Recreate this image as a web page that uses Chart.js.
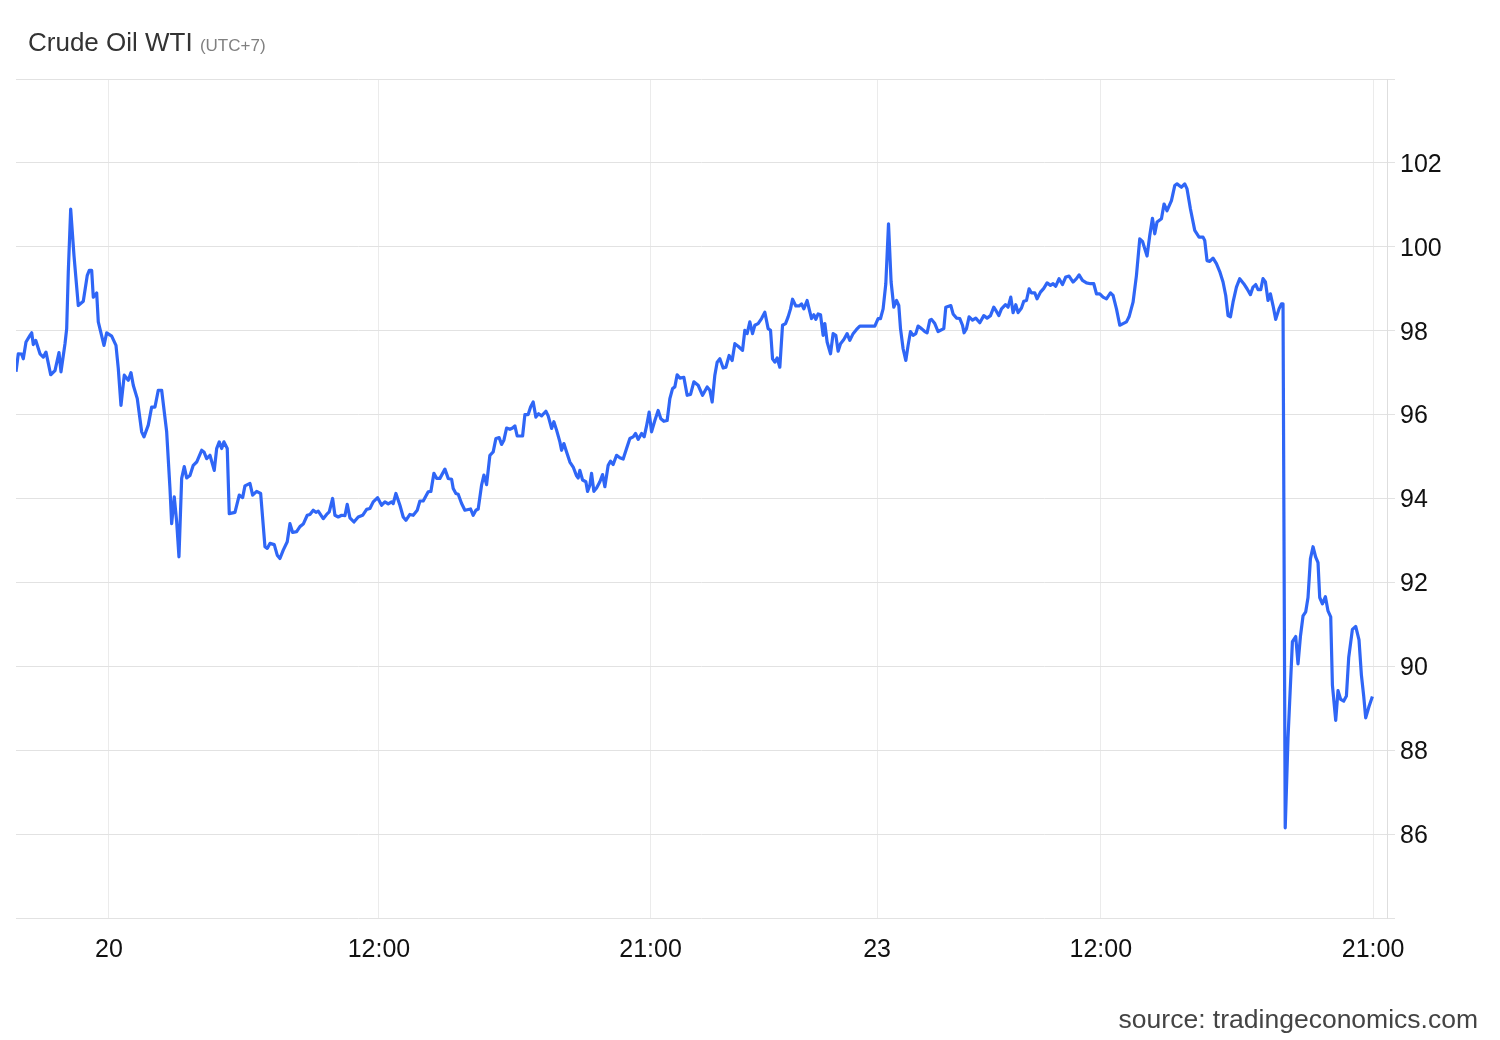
<!DOCTYPE html>
<html>
<head>
<meta charset="utf-8">
<script src="https://cdn.jsdelivr.net/npm/chart.js@4.4.0/dist/chart.umd.min.js"></script>
<style>
  body { margin: 0; background: #fff; }
  #wrap { position: relative; width: 1500px; height: 1040px; font-family: "Liberation Sans", Arial, sans-serif; }
  #title { position: absolute; left: 28px; top: 29px; font-size: 26px; line-height: 26px; color: #333; white-space: nowrap; }
  #title span { font-size: 17px; color: #808080; }
  #source { position: absolute; right: 22px; top: 1006px; font-size: 26.5px; line-height: 26px; color: #444; white-space: nowrap; }
  canvas { position: absolute; left: 0; top: 0; }
</style>
</head>
<body>
<div id="wrap">
  <canvas id="chart" width="1500" height="1040"></canvas>
  <div id="title">Crude Oil WTI <span>(UTC+7)</span></div>
  <div id="source">source: tradingeconomics.com</div>
</div>
<script>
// time slot along the (trading-time) x axis
const slot = [
  0, 2.3, 5.7, 7.3, 10, 14, 15.7, 17.3, 19.7, 24, 27.3, 30, 34.7, 39, 43, 45, 49, 50.7, 52.3, 54.7,
  58, 62.3, 67.3, 71.3, 73.3, 75.7, 77.3, 80.7, 82.3, 88, 90.7, 95.7, 100, 102.3, 105, 108.3, 112.3, 115, 117.3, 121.3,
  125.7, 128, 132.3, 135.7, 139, 142.3, 145.7, 150.7, 154, 155.7, 158.3, 160.7, 163, 165.7, 168.3, 170.7, 174, 177.3, 180.7, 185.7,
  188, 190.7, 194, 198.3, 200.7, 203.3, 205.7, 208, 211.3, 213.3, 219, 223.3, 226.7, 229, 234, 236.7, 240.7, 244.7, 249, 251.3,
  254, 258.3, 261.3, 264, 267.3, 271.3, 274, 276.7, 280.7, 284, 287.3, 291.3, 294, 297.3, 300, 302.3, 307.3, 310.7, 313.3, 316.7,
  319, 322.3, 325.7, 329, 331.3, 334, 338, 342.3, 346.7, 350.7, 354, 357.3, 361.7, 365.7, 369, 372.3, 375.7, 377.3, 380, 384,
  387.3, 390, 394, 397.3, 401.3, 404, 407.3, 412.3, 415, 418, 420.7, 424, 429, 432.3, 435.7, 437.3, 440, 442.3, 445.7, 449,
  454.7, 457.3, 460, 462.3, 465.7, 468, 470.7, 474, 477.3, 480, 483.3, 485.7, 488, 490.7, 494, 496.7, 499, 501.3, 506.7, 509,
  512.3, 514.7, 517.3, 520, 522.7, 525.7, 530, 532.3, 535.7, 538, 540.7, 544, 545.7, 548, 550.7, 554, 557.3, 560.7, 562.3, 564,
  566.7, 570, 571.7, 574, 575.7, 578, 580.7, 584, 586.7, 589, 592.3, 594.7, 597.3, 600.7, 604, 607.3, 610.7, 614, 617.3, 619.7,
  622.3, 625.7, 628.3, 630.7, 633.3, 635.7, 639, 642.3, 645, 648, 651.3, 654, 656.7, 659, 661.3, 664, 668, 671.3, 674.7, 678,
  682.3, 686.7, 691.3, 694, 696.3, 699, 701.3, 704, 707.3, 710, 713.3, 716.3, 719, 722.3, 726.7, 729, 731.3, 734, 736.7, 739,
  742.3, 745.7, 749, 752.3, 754.7, 756.7, 759, 761.3, 764, 766.7, 769.7, 772.3, 774.7, 776.7, 780, 783.3, 785.7, 788, 791.3, 793.3,
  795.7, 798, 800, 802.3, 804.7, 807.3, 809, 811.3, 814.7, 817.3, 820, 822.3, 824.7, 828, 831.3, 834, 837.3, 840.7, 844, 859,
  862.3, 864.7, 867.3, 870, 872.7, 875.3, 878, 880.7, 883, 884.7, 887.3, 890, 892.3, 894.7, 897.3, 900, 902.3, 905.7, 909, 911.3,
  914, 915.7, 919, 922.3, 928, 930, 935, 937.3, 940.7, 944, 946.7, 948.3, 950.7, 953.3, 956.7, 960, 964, 968, 971.3, 974.7,
  978, 980.7, 983, 985.7, 989.7, 992.3, 995, 997.3, 1000, 1002.3, 1005.7, 1008, 1010.7, 1013.3, 1015.7, 1019, 1021.3, 1024.7, 1028, 1031.3,
  1034.7, 1037.3, 1040, 1043.3, 1046.7, 1050, 1053.3, 1057.3, 1060.7, 1063.3, 1066.7, 1070.7, 1074.7, 1078, 1080.7, 1084, 1087.3, 1090.7, 1094.7, 1097.3,
  1100.7, 1104, 1107.3, 1110.7, 1113.3, 1117.3, 1120.7, 1124, 1126.7, 1131.3, 1134, 1136.7, 1139, 1141.3, 1145.7, 1148.3, 1151.3, 1155.7, 1159, 1161.3,
  1165.7, 1169, 1171.3, 1174.7, 1179, 1183.3, 1187.3, 1189, 1191.3, 1194, 1197.3, 1200.7, 1204, 1207.3, 1210, 1212.3, 1214.7, 1217.3, 1220.7, 1224,
  1228, 1231.3, 1234.7, 1237.3, 1240, 1242.3, 1245, 1247.3, 1249.7, 1252.3, 1254.7, 1257.3, 1260, 1263.3, 1265.7, 1267.3, 1269.5, 1272.3, 1276.7, 1280,
  1282.3, 1284.7, 1287.3, 1290, 1292.3, 1294.7, 1297.3, 1300, 1302.3, 1304, 1306.7, 1309.7, 1312.3, 1315, 1316.7, 1320, 1322.3, 1325, 1328, 1330.7,
  1333, 1336.7, 1340, 1343.3, 1345.7, 1348, 1350, 1353.3, 1356.7
];

// USD per barrel
const price = [
  97.02, 97.45, 97.44, 97.33, 97.73, 97.89, 97.95, 97.67, 97.77, 97.45, 97.37, 97.49, 96.95, 97.05, 97.48, 97.02, 97.69, 98.05, 99.40, 100.90,
  99.79, 98.60, 98.70, 99.32, 99.44, 99.44, 98.80, 98.90, 98.21, 97.65, 97.95, 97.87, 97.65, 97.10, 96.22, 96.94, 96.82, 97.00, 96.70, 96.38,
  95.59, 95.47, 95.75, 96.18, 96.18, 96.58, 96.58, 95.59, 94.24, 93.40, 94.04, 93.45, 92.61, 94.48, 94.76, 94.49, 94.55, 94.79, 94.87, 95.15,
  95.11, 94.95, 95.03, 94.67, 95.19, 95.35, 95.19, 95.35, 95.19, 93.64, 93.67, 94.08, 94.02, 94.30, 94.36, 94.08, 94.17, 94.12, 92.85, 92.81,
  92.93, 92.90, 92.65, 92.57, 92.77, 92.97, 93.40, 93.19, 93.21, 93.33, 93.39, 93.60, 93.62, 93.72, 93.67, 93.70, 93.52, 93.62, 93.68, 94.00,
  93.60, 93.56, 93.60, 93.59, 93.86, 93.54, 93.44, 93.56, 93.60, 93.74, 93.76, 93.92, 94.02, 93.84, 93.92, 93.87, 93.92, 93.88, 94.12, 93.84,
  93.56, 93.48, 93.62, 93.60, 93.72, 93.94, 93.94, 94.16, 94.17, 94.60, 94.48, 94.48, 94.70, 94.48, 94.46, 94.24, 94.12, 94.10, 93.88, 93.72,
  93.75, 93.60, 93.72, 93.75, 94.32, 94.56, 94.33, 95.03, 95.11, 95.43, 95.45, 95.29, 95.39, 95.68, 95.65, 95.68, 95.73, 95.49, 95.49, 96.00,
  96.00, 96.18, 96.30, 95.94, 96.02, 95.97, 96.08, 95.97, 95.67, 95.83, 95.63, 95.35, 95.15, 95.31, 95.11, 94.87, 94.75, 94.54, 94.49, 94.67,
  94.44, 94.40, 94.17, 94.32, 94.60, 94.17, 94.25, 94.40, 94.57, 94.28, 94.79, 94.89, 94.81, 95.03, 94.97, 94.94, 95.19, 95.43, 95.47, 95.55,
  95.41, 95.55, 95.47, 95.73, 96.06, 95.59, 95.86, 96.10, 95.90, 95.84, 95.86, 96.38, 96.62, 96.66, 96.95, 96.87, 96.89, 96.46, 96.48, 96.78,
  96.70, 96.46, 96.66, 96.58, 96.30, 96.94, 97.25, 97.33, 97.11, 97.13, 97.41, 97.29, 97.69, 97.63, 97.53, 98.01, 97.93, 98.21, 97.93, 98.13,
  98.17, 98.29, 98.44, 98.05, 98.01, 97.33, 97.25, 97.35, 97.13, 98.13, 98.17, 98.33, 98.52, 98.75, 98.59, 98.59, 98.64, 98.52, 98.72, 98.52,
  98.29, 98.38, 98.27, 98.40, 98.38, 97.89, 98.17, 97.73, 97.45, 97.93, 97.89, 97.51, 97.69, 97.79, 97.93, 97.77, 97.93, 98.03, 98.11, 98.11,
  98.29, 98.29, 98.52, 99.12, 100.55, 99.16, 98.56, 98.72, 98.60, 98.05, 97.57, 97.29, 97.65, 97.98, 97.89, 97.93, 98.11, 98.05, 97.98, 97.95,
  98.25, 98.27, 98.17, 97.98, 98.05, 98.56, 98.60, 98.40, 98.30, 98.29, 98.13, 97.95, 98.05, 98.33, 98.25, 98.30, 98.19, 98.36, 98.30, 98.36,
  98.56, 98.46, 98.36, 98.52, 98.62, 98.56, 98.80, 98.43, 98.62, 98.43, 98.54, 98.70, 98.72, 99.00, 98.90, 98.90, 98.76, 98.92, 99.01, 99.14,
  99.08, 99.12, 99.06, 99.24, 99.10, 99.28, 99.30, 99.16, 99.24, 99.33, 99.20, 99.14, 99.12, 99.12, 98.88, 98.88, 98.80, 98.76, 98.90, 98.84,
  98.52, 98.13, 98.17, 98.21, 98.33, 98.68, 99.32, 100.19, 100.13, 99.78, 100.27, 100.68, 100.31, 100.59, 100.67, 101.02, 100.86, 101.10, 101.46, 101.50,
  101.42, 101.50, 101.38, 100.90, 100.39, 100.23, 100.23, 100.15, 99.67, 99.65, 99.73, 99.60, 99.41, 99.16, 98.84, 98.36, 98.33, 98.68, 99.04, 99.24,
  99.12, 99.00, 98.86, 99.04, 99.10, 98.98, 98.98, 99.24, 99.16, 98.72, 98.88, 98.60, 98.27, 98.52, 98.64, 98.64, 86.15, 88.29, 90.59, 90.71,
  90.06, 90.71, 91.20, 91.30, 91.64, 92.56, 92.85, 92.60, 92.47, 91.64, 91.49, 91.66, 91.32, 91.18, 89.55, 88.71, 89.42, 89.21, 89.17, 89.29,
  90.21, 90.88, 90.95, 90.63, 89.79, 89.29, 88.77, 89.04, 89.28
];

const xTickSlots = [93, 363, 634.7, 861.3, 1085, 1357.3];
const xTickLabels = ['20', '12:00', '21:00', '23', '12:00', '21:00'];
const yLabelled = [86, 88, 90, 92, 94, 96, 98, 100, 102];

Chart.defaults.font.family = '"Liberation Sans", Arial, sans-serif';

const ctx = document.querySelector('#chart').getContext('2d');

new Chart(ctx, {
    type: 'line',
    data: {
        datasets: [{
            data: slot.map((x, i) => ({ x: x, y: price[i] })),
            borderColor: '#2f66f6',
            borderWidth: 3.2,
            pointRadius: 0,
            tension: 0,
            borderJoinStyle: 'round'
        }]
    },
    options: {
        responsive: false,
        animation: false,
        layout: { padding: { left: 16, top: 79, right: 0, bottom: 0 } },
        plugins: {
            legend: { display: false },
            tooltip: { enabled: false }
        },
        scales: {
            x: {
                type: 'linear',
                min: 0,
                max: 1371.3,
                afterBuildTicks: (scale) => {
                    scale.ticks = xTickSlots.map(v => ({ value: v }));
                },
                afterFit: (scale) => { scale.height = 122; },
                grid: { color: '#ebebeb', drawTicks: false },
                border: { display: false },
                ticks: {
                    autoSkip: false,
                    maxRotation: 0,
                    padding: 17,
                    color: '#111',
                    font: { size: 25 },
                    callback: (v, i) => xTickLabels[i]
                }
            },
            y: {
                position: 'right',
                min: 84,
                max: 104,
                afterFit: (scale) => { scale.width = 113; },
                grid: { color: '#e2e2e2', tickLength: 8 },
                border: { color: '#dedede' },
                ticks: {
                    stepSize: 2,
                    padding: 5,
                    labelOffset: 2,
                    color: '#111',
                    font: { size: 25 },
                    callback: (v) => yLabelled.includes(v) ? v : ''
                }
            }
        }
    }
});
</script>
</body>
</html>
